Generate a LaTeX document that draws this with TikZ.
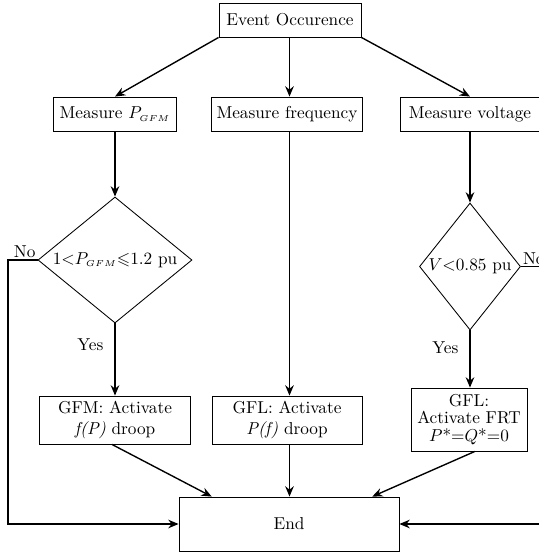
\documentclass[tikz,border=0pt]{standalone}
\usepackage{amssymb}
\usetikzlibrary{shapes.geometric,arrows.meta,calc}
\begin{document}
\begin{tikzpicture}[x=0.58pt,y=-0.58pt,
  box/.style={draw,line width=0.5pt,inner sep=1pt,align=center,font=\normalsize},
  dia/.style={draw,diamond,line width=0.5pt,inner sep=0pt,aspect=1.2},
  conn/.style={line width=0.8pt,-{Stealth[length=6pt,width=5pt,inset=2pt]}},
  line/.style={line width=0.8pt}]
\useasboundingbox (0,0) rectangle (539,556);
\node[box,minimum width=142*0.58pt,minimum height=34*0.58pt] (ev) at (290,20) {Event Occurence};
\node[box,minimum width=123*0.58pt,minimum height=34*0.58pt] (mp) at (115,114) {Measure $P_{\scriptscriptstyle GFM}$};
\node[box,minimum width=151*0.58pt,minimum height=34*0.58pt] (mf) at (287,114) {Measure frequency};
\node[box,minimum width=140*0.58pt,minimum height=34*0.58pt] (mv) at (470,114) {Measure voltage};
\node[dia,minimum width=154*0.58pt,minimum height=126*0.58pt] (d1) at (115,260) {$1{<}P_{\scriptscriptstyle GFM}{\leqslant}1.2$ pu};
\node[dia,minimum width=99*0.58pt,minimum height=127*0.58pt] (d2) at (470,266.5) {$V{<}0.85$ pu};
\node[box,minimum width=151*0.58pt,minimum height=48*0.58pt] (gfm) at (115,420) {GFM: Activate\\\textit{f(P)} droop};
\node[box,minimum width=150*0.58pt,minimum height=48*0.58pt] (gfl) at (287,420) {GFL: Activate\\\textit{P(f)} droop};
\node[box,minimum width=116*0.58pt,minimum height=63*0.58pt,inner sep=1pt] (frt) at (469,419.5) {GFL:\\[-2pt]Activate FRT\\[-2pt]$P$*$=$$Q$*$=$0};
\node[box,minimum width=220*0.58pt,minimum height=54*0.58pt] (end) at (289,524) {End};
\coordinate (rx) at (548,0);
\coordinate (lx) at (8,0);
\coordinate (cx) at (289.5,0);
\draw[conn] (ev.south west) -- (mp.north);
\draw[conn] (ev.south -| cx) -- (mf.north -| cx);
\draw[conn] (ev.south east) -- (mv.north);
\draw[conn] (mp.south) -- (d1.north);
\draw[conn] (mf.south -| cx) -- (gfl.north -| cx);
\draw[conn] (mv.south) -- (d2.north);
\draw[conn] (d1.south) -- node[left,pos=0.3,xshift=-3pt] {Yes} (gfm.north);
\draw[conn] (d2.south) -- node[left,pos=0.3,xshift=-3pt] {Yes} (d2.south |- frt.north);
\draw[conn] (d1.west) -- (d1.west -| lx) |- (end.west);
\node[above left,inner sep=1pt] (no1) at (d1.west) {No};
\draw[conn] (d2.east) -- (d2.east -| rx) |- (end.east);
\node[above right,inner sep=1pt] (no2) at (d2.east) {No};
\draw[conn] ($(gfm.south west)!0.48!(gfm.south east)$) -- ($(end.north west)!0.15!(end.north east)$);
\draw[conn] (gfl.south -| cx) -- (end.north -| cx);
\draw[conn] ($(frt.south west)!0.55!(frt.south east)$) -- ($(end.north west)!0.877!(end.north east)$);
\end{tikzpicture}
\end{document}
